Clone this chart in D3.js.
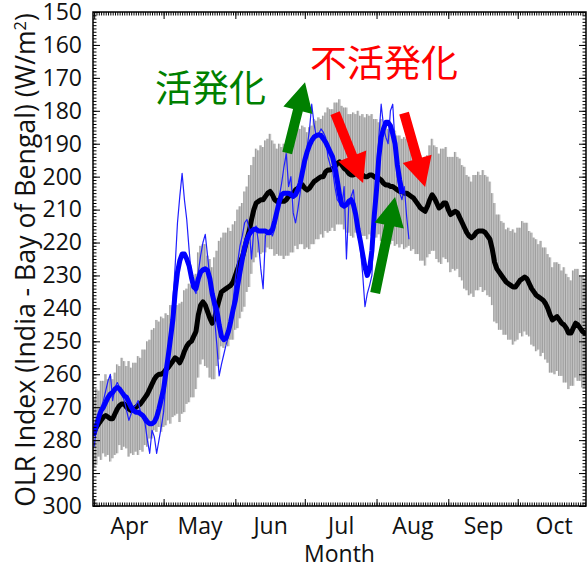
<!DOCTYPE html>
<html>
<head>
<meta charset="utf-8">
<script src="https://cdn.jsdelivr.net/npm/d3@7"></script>
<style>
  body { margin: 0; background: #fff; }
  svg { display: block; }
  text { font-family: "Open Sans", "DejaVu Sans", sans-serif; }
</style>
</head>
<body>
<svg id="chart" width="588" height="569"></svg>
<script>
// Daily series start on 1 April (index 0).
const seriesStart = Date.UTC(2019, 3, 1);

// Climatological mean OLR (W/m^2), 1 Apr - 30 Oct.
const climMean = [
  277.5,276,275,274,273,272.5,273,273.5,273.5,272,
  270.5,269.5,269,269,270,270.5,271,270.5,270,269.5,
  269,268,267,266,264.5,263,261.5,260.5,260,260,
  259.5,258.5,258,257,256,255,255.5,256.5,255,253,
  251.5,250.5,250,248.5,247,242,239,238,239,241,
  243,244.5,243,240,237.5,235,234.5,234,233.5,233,
  232,230,228,226,224.5,222,219,216.5,213,210,
  208,207.5,207,207,206,205,204.5,205.5,207,207.5,
  207,207.5,207.5,207,206,205.5,205,204,203.5,203,
  202.5,203.5,204,203.5,202.5,201.5,201,200.5,200,200,
  198.5,198,198,197.5,197,196,195.5,196.5,197.5,198,
  199,199.5,199.5,199,198.5,199,199.5,200,200,199.5,
  199.5,200,200.5,200.5,201,202,202.5,202.5,203,203,
  203.5,204,204.5,204.5,205,205,205.5,206,206.5,207.5,
  208.5,209.5,210,210.5,209,207,205.5,206.5,208,209.5,
  209,208,208,210,211.5,211,210.5,211,212.5,214,
  215.5,217,218,218.5,218,217,216.5,216.5,216.5,217,
  218,219,222,226,228,229,230,231,232,232.5,
  233,233.5,233.5,232.5,231.5,231,230.5,231,232.5,234,
  235,236,236.5,237,237.5,238.5,240,242,243.5,243,
  242.5,243.5,244.5,245,246,247.5,247.5,246,244.5,245,
  246,247,247.5
];

// Half-width of the climatological spread (W/m^2), same days.
const climSpread = [
  10.5,11.5,10,12,11,12.5,11.5,13,12,12.5,
  13.5,12,14,13,12.5,14.5,13,14,13.5,15,
  14,15.5,14.5,16,15,16.5,15.5,17,16,17.5,
  16.5,17,16,18,17,17.5,16.5,18,17,18.5,
  17.5,18,17,18.5,17.5,19,18,17.5,18.5,17,
  18,17,18.5,17.5,18,16.5,17.5,17,18,16.5,
  17.5,16.5,18,17,16.5,17.5,16,17,16.5,16,
  16.5,15.5,16.5,16,17,16.5,17.5,16.5,17,16,
  17,16.5,17.5,17,18,17.5,18,17,18.5,17.5,
  18,18.5,17.5,18.5,18,19,18,18.5,17.5,18.5,
  18,19,18.5,18,19.5,18.5,19,18,18.5,19,
  18,18.5,19,18,18.5,17.5,18.5,18,19,18,
  18.5,17.5,18,17,18.5,17.5,18,17,17.5,16.5,
  17.5,16.5,17,16,17,16.5,15.5,16.5,15.5,16,
  15,16,15.5,16.5,15.5,16.5,17,16,17,16.5,
  17.5,16.5,17,16,17.5,17,18,17,18,17.5,
  18.5,17.5,18,17,18.5,17.5,18,17,18.5,17.5,
  18,17.5,17,18,16.5,17.5,16.5,17,16,17,
  16.5,17.5,16.5,17,16,17.5,16.5,17,16,17,
  16.5,17,16,17.5,16,17,16.5,17.5,16,17,
  16.5,17,16,17.5,16.5,17,16,17.5,16.5,17,
  16,17,16.5
];

// Observed daily OLR index this season (W/m^2), from 1 Apr.
const olrDaily = [
  282,276,272,270,268,265,262,260,268,264,
  262.5,264,266,268,271,274,272,270,269.5,268,
  271.5,273,275,280,284,277,279,284,280,276,
  271.5,262,252,246,238,227,214,206,199,207,
  213,222,230,234,235.5,229,224,220,217.5,224,
  231,236.5,243,251,260.5,257,254,251,248.5,244,
  238,231,226,221,218,214,213,216,225,216,
  215,220,228,234,218,216.5,216,218,216,212,
  206,202,197,193,203,200,211,214,210,205,
  199,194,191,186,178,184,188,187,185.5,186.5,
  188,194,196.5,198,203,207,208,209,203,225,
  209,206,204,211,215,222,229.5,239.5,235.5,233,
  230,213,199,188,178,184.5,188,190,180,178,
  190,200,205,207,203,212,219
];

// Running-mean OLR index (W/m^2), from 1 Apr.
const olrSmooth = [
  278,275.5,273,271,270,268.5,267,266,265.5,264.5,
  264,264.5,265.5,266.5,267,268.5,270,271,271.5,271.5,
  272,272.5,273.5,274.5,275,275,274.5,273,270.5,267.5,
  264.5,259.5,254.5,249,243.5,235,229,225.5,223.5,223.5,
  225,227,230.5,233.5,234,231,229,228.3,228,228.5,
  231,235.5,238.5,240.5,245,248.5,249.5,249,247,244,
  240.5,237.5,233,229,225,221.5,219,217.5,216.5,216,
  216,216.5,216.5,216.5,216.5,217,217,216,213.5,210.5,
  207.5,205.5,205,205,205,205.5,206,205.5,204,202,
  198.5,195,192.5,190.5,189,188,187.5,187.3,187.5,188.5,
  189.5,191,192.5,194,197,201,205.5,208.5,209,208.5,
  207.5,207,208.5,211.5,216,219.5,223.5,227.5,230,228,
  222.5,212,204,194,188,185.5,183.5,183.5,184.5,187,
  190,196.5,201,204.5
];

const monthNames = ["Apr", "May", "Jun", "Jul", "Aug", "Sep", "Oct"];
const yTickValues = d3.range(150, 301, 10);

// Annotations in data units: [day index, W/m^2].
const activeArrows = [
  { from: [83.4, 192.8], to: [91.1, 171.3] },
  { from: [121.4, 235.3], to: [130.0, 206.2] }
];
const breakArrows = [
  { from: [104.1, 180.7], to: [116.2, 201.9] },
  { from: [133.9, 180.7], to: [143.0, 203.1] }
];
const activeLabel = { text: "活発化", at: [26.3, 177.3] };
const breakLabel = { text: "不活発化", at: [93.3, 169.7] };

// ---------------------------------------------------------------
const svg = d3.select("#chart");
const plot = { left: 93, top: 12, right: 586, bottom: 506 };

const dayDate = i => new Date(seriesStart + i * 864e5);
const x = d3.scaleUtc()
  .domain([new Date(Date.UTC(2019, 2, 31, 12)), new Date(Date.UTC(2019, 9, 30, 12))])
  .range([plot.left, plot.right]);
const y = d3.scaleLinear().domain([150, 300]).range([plot.top, plot.bottom]);

svg.append("defs").append("clipPath").attr("id", "plotClip")
  .append("rect")
  .attr("x", plot.left).attr("y", plot.top)
  .attr("width", plot.right - plot.left).attr("height", plot.bottom - plot.top);

const inner = svg.append("g").attr("clip-path", "url(#plotClip)");

// Spread bars, one per day
const dayW = x(dayDate(1)) - x(dayDate(0));
const spread = inner.append("g");
spread.selectAll("rect").data(climMean).join("rect")
  .attr("x", (d, i) => x(dayDate(i)) - dayW / 2)
  .attr("width", dayW)
  .attr("y", (d, i) => y(d - climSpread[i]))
  .attr("height", (d, i) => y(d + climSpread[i]) - y(d - climSpread[i]))
  .attr("fill", "#c2c2c2");
spread.selectAll("line").data(climMean).join("line")
  .attr("x1", (d, i) => x(dayDate(i)) - dayW / 2 + 0.3)
  .attr("x2", (d, i) => x(dayDate(i)) - dayW / 2 + 0.3)
  .attr("y1", (d, i) => y(d - climSpread[i]))
  .attr("y2", (d, i) => y(d + climSpread[i]))
  .attr("stroke", "#7c7c7c").attr("stroke-width", 0.6);

const lineGen = d3.line().x((d, i) => x(dayDate(i))).y(d => y(d));

inner.append("path").datum(climMean)
  .attr("d", lineGen).attr("fill", "none")
  .attr("stroke", "#000").attr("stroke-width", 5)
  .attr("stroke-linejoin", "round").attr("stroke-linecap", "round");

inner.append("path").datum(olrDaily)
  .attr("d", lineGen).attr("fill", "none")
  .attr("stroke", "#1f1fff").attr("stroke-width", 1.2)
  .attr("stroke-linejoin", "round");

inner.append("path").datum(olrSmooth)
  .attr("d", lineGen).attr("fill", "none")
  .attr("stroke", "#0000ff").attr("stroke-width", 5)
  .attr("stroke-linejoin", "round").attr("stroke-linecap", "round");

// Axes: ticks point inward on all four sides
const monthStarts = d3.utcMonth.range(new Date(Date.UTC(2019, 3, 1)), new Date(Date.UTC(2019, 10, 1)));
const days = d3.range(0, 213).map(dayDate);
const yMinor = d3.range(150, 301, 1);

function tickAxis(axis, tr) {
  const g = svg.append("g").attr("transform", tr).call(axis);
  g.select(".domain").remove();
  g.selectAll("line").attr("stroke", "#000").attr("stroke-width", 1);
  return g;
}
tickAxis(d3.axisLeft(y).tickValues(yMinor).tickSize(-3.5).tickFormat(""), `translate(${plot.left},0)`);
tickAxis(d3.axisRight(y).tickValues(yMinor).tickSize(-3.5).tickFormat(""), `translate(${plot.right},0)`);
tickAxis(d3.axisRight(y).tickValues(yTickValues).tickSize(-7).tickFormat(""), `translate(${plot.right},0)`);
tickAxis(d3.axisBottom(x).tickValues(days).tickSize(-3.5).tickFormat(""), `translate(0,${plot.bottom})`);
tickAxis(d3.axisTop(x).tickValues(days).tickSize(-3.5).tickFormat(""), `translate(0,${plot.top})`);
tickAxis(d3.axisBottom(x).tickValues(monthStarts).tickSize(-7).tickFormat(""), `translate(0,${plot.bottom})`);
tickAxis(d3.axisTop(x).tickValues(monthStarts).tickSize(-7).tickFormat(""), `translate(0,${plot.top})`);

const yAxis = tickAxis(d3.axisLeft(y).tickValues(yTickValues).tickSize(-7).tickPadding(11), `translate(${plot.left},0)`);
yAxis.selectAll("text").attr("font-size", 23).attr("fill", "#111")
  .style("font-family", '"Open Sans", sans-serif');

// Month names centred in each month
const monthMids = monthStarts.map(m => new Date((+m + +d3.utcMonth.offset(m, 1)) / 2));
const xAxis = tickAxis(
  d3.axisBottom(x).tickValues(monthMids).tickSize(0).tickPadding(12)
    .tickFormat((d, i) => monthNames[i]),
  `translate(0,${plot.bottom})`);
xAxis.selectAll("text").attr("font-size", 23).attr("fill", "#111")
  .style("font-family", '"Open Sans", sans-serif');

// Frame
svg.append("rect")
  .attr("x", plot.left).attr("y", plot.top)
  .attr("width", plot.right - plot.left).attr("height", plot.bottom - plot.top)
  .attr("fill", "none").attr("stroke", "#000").attr("stroke-width", 1.5);

// Axis titles
svg.append("text")
  .attr("x", (plot.left + plot.right) / 2).attr("y", 562)
  .attr("text-anchor", "middle").attr("font-size", 23).attr("fill", "#111")
  .text("Month");

const yTitle = svg.append("text")
  .attr("transform", `translate(35,${(plot.top + plot.bottom) / 2 + 1}) rotate(-90)`)
  .attr("text-anchor", "middle").attr("font-size", 23).attr("fill", "#111");
yTitle.append("tspan").text("OLR Index (India - Bay of Bengal) (W/m");
yTitle.append("tspan").attr("font-size", 14).attr("dy", -9).text("2");
yTitle.append("tspan").attr("dy", 9).text(")");
const titleLen = yTitle.node().getComputedTextLength();
if (titleLen > 0) {
  const k = 494 / titleLen;
  yTitle.selectAll("tspan").filter((d, i) => i === 1).attr("font-size", 14 * k);
  yTitle.selectAll("tspan").filter((d, i) => i === 0 || i === 2).attr("font-size", 23 * k);
}

// Arrows (drawn in pixel space from data-unit endpoints)
function arrowPath(a, shaftW = 10, headW = 30, headL = 29) {
  const x0 = x(dayDate(a.from[0])), y0 = y(a.from[1]);
  const x1 = x(dayDate(a.to[0])), y1 = y(a.to[1]);
  const len = Math.hypot(x1 - x0, y1 - y0);
  const ux = (x1 - x0) / len, uy = (y1 - y0) / len;
  const nx = -uy, ny = ux;
  const bx = x1 - ux * headL, by = y1 - uy * headL;
  const pts = [
    [x0 + nx * shaftW / 2, y0 + ny * shaftW / 2],
    [bx + nx * shaftW / 2, by + ny * shaftW / 2],
    [bx + nx * headW / 2, by + ny * headW / 2],
    [x1, y1],
    [bx - nx * headW / 2, by - ny * headW / 2],
    [bx - nx * shaftW / 2, by - ny * shaftW / 2],
    [x0 - nx * shaftW / 2, y0 - ny * shaftW / 2]
  ];
  return "M" + pts.map(p => p.join(",")).join("L") + "Z";
}
svg.append("g").selectAll("path").data(activeArrows).join("path")
  .attr("d", d => arrowPath(d)).attr("fill", "#008000");
svg.append("g").selectAll("path").data(breakArrows).join("path")
  .attr("d", d => arrowPath(d)).attr("fill", "#ff0000");

svg.append("text")
  .attr("x", x(dayDate(activeLabel.at[0]))).attr("y", y(activeLabel.at[1]))
  .attr("font-size", 37).attr("fill", "#008000")
  .style("font-family", '"Noto Sans CJK JP", sans-serif')
  .text(activeLabel.text);
svg.append("text")
  .attr("x", x(dayDate(breakLabel.at[0]))).attr("y", y(breakLabel.at[1]))
  .attr("font-size", 37).attr("fill", "#ff0000")
  .style("font-family", '"Noto Sans CJK JP", sans-serif')
  .text(breakLabel.text);
</script>
</body>
</html>
